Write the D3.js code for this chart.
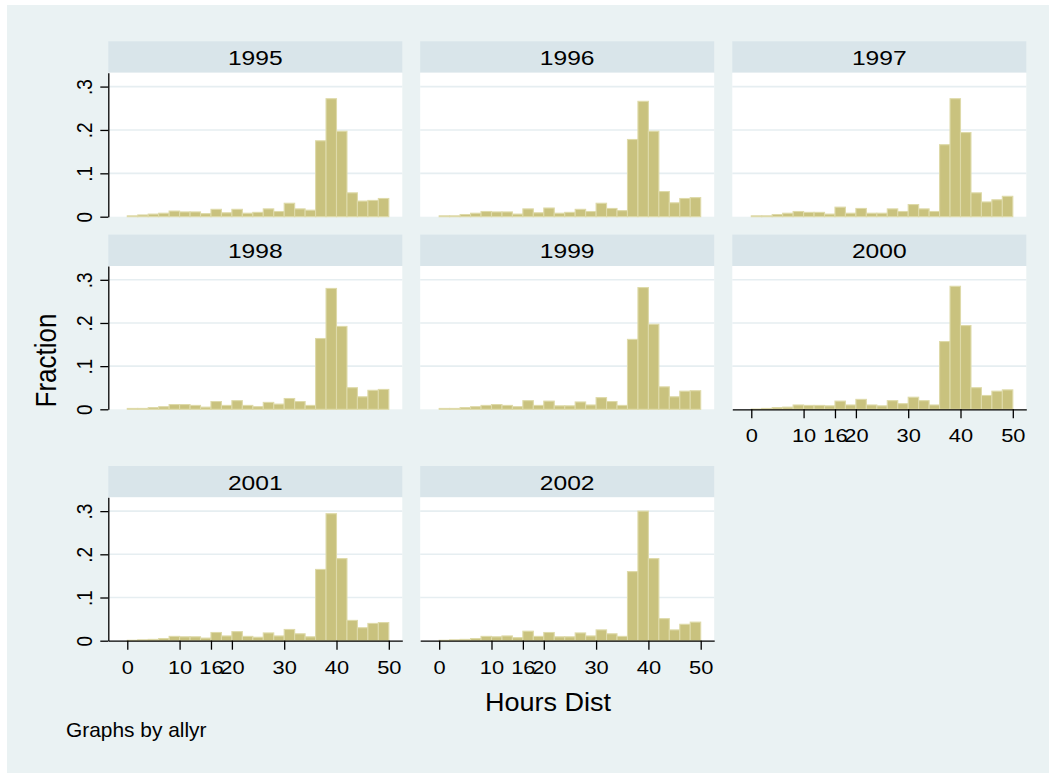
<!DOCTYPE html>
<html><head><meta charset="utf-8">
<script src="https://cdn.jsdelivr.net/npm/d3@7"></script>
<style>html,body{margin:0;padding:0;background:#fff;} svg{display:block;}</style>
</head><body><svg id="c" width="1056" height="775"></svg>
<script>
const years = ["1995","1996","1997","1998","1999","2000","2001","2002"];
const binStarts = [0,2,4,6,8,10,12,14,16,18,20,22,24,26,28,30,32,34,36,38,40,42,44,46,48];
const binWidth = 2;
const frac1995 = [0.002,0.004,0.006,0.008,0.013,0.011,0.011,0.007,0.017,0.009,0.017,0.008,0.010,0.018,0.012,0.031,0.018,0.015,0.175,0.272,0.197,0.055,0.036,0.0375,0.042];
const frac1996 = [0.002,0.002,0.005,0.008,0.012,0.011,0.011,0.006,0.018,0.009,0.020,0.008,0.010,0.017,0.012,0.031,0.019,0.014,0.178,0.266,0.197,0.058,0.032,0.042,0.044];
const frac1997 = [0.002,0.002,0.005,0.008,0.012,0.010,0.010,0.006,0.022,0.008,0.019,0.008,0.008,0.018,0.012,0.028,0.018,0.012,0.166,0.272,0.194,0.055,0.034,0.039,0.047];
const frac1998 = [0.002,0.002,0.004,0.006,0.011,0.011,0.009,0.005,0.018,0.009,0.020,0.009,0.006,0.016,0.012,0.025,0.018,0.009,0.164,0.280,0.192,0.050,0.029,0.044,0.046];
const frac1999 = [0.002,0.002,0.004,0.006,0.009,0.011,0.009,0.006,0.020,0.009,0.019,0.008,0.008,0.017,0.010,0.027,0.018,0.009,0.162,0.282,0.197,0.052,0.029,0.042,0.043];
const frac2000 = [0.0005,0.002,0.004,0.005,0.010,0.009,0.009,0.008,0.019,0.010,0.023,0.010,0.008,0.020,0.013,0.028,0.020,0.010,0.157,0.285,0.194,0.050,0.032,0.042,0.045];
const frac2001 = [0.001,0.002,0.003,0.005,0.010,0.009,0.009,0.006,0.019,0.011,0.021,0.010,0.008,0.018,0.011,0.026,0.016,0.009,0.165,0.294,0.190,0.047,0.030,0.040,0.042];
const frac2002 = [0.001,0.002,0.003,0.005,0.010,0.009,0.011,0.007,0.022,0.010,0.019,0.009,0.009,0.018,0.011,0.025,0.016,0.010,0.160,0.300,0.190,0.051,0.025,0.038,0.043];
const yTickValues = [0,0.1,0.2,0.3];
const yTickLabels = ["0",".1",".2",".3"];
const yGridValues = [0.1,0.2,0.3];
const xTickValues = [0,10,16,20,30,40,50];
const xTickLabels = ["0","10","16","20","30","40","50"];

const series = [frac1995,frac1996,frac1997,frac1998,frac1999,frac2000,frac2001,frac2002];
const FONT = "'Liberation Sans', Arial, Helvetica, sans-serif";

const svg = d3.select("#c");
svg.append("rect").attr("x",7).attr("y",5).attr("width",1042).attr("height",768).attr("fill","#eaf2f3");

const colLefts = [108.3, 420.2, 732.3];
const panelW = 294;
const rows = [
  {stripTop:41.3, plotTop:72.7, plotBottom:216.7},
  {stripTop:234.6, plotTop:266, plotBottom:409.3},
  {stripTop:466, plotTop:497.3, plotBottom:640.7}
];
const xAxisPanels = [5,6,7];

years.forEach((yr,i)=>{
  const r = rows[Math.floor(i/3)], c = i%3;
  const left = colLefts[c];
  const x = d3.scaleLinear().domain([-3.63,52.58]).range([left, left+panelW]);
  const y = d3.scaleLinear().domain([0,0.332]).range([r.plotBottom, r.plotTop]);
  const g = svg.append("g");
  // strip
  g.append("rect").attr("x",left).attr("y",r.stripTop).attr("width",panelW)
    .attr("height",r.plotTop-r.stripTop).attr("fill","#d9e5ea");
  g.append("text").attr("transform",`translate(${left+panelW/2},${r.plotTop-7.7}) scale(1.2,1)`)
    .attr("text-anchor","middle").attr("font-family",FONT).attr("font-size",20.5).attr("fill","#000").text(yr);
  // plot region
  g.append("rect").attr("x",left).attr("y",r.plotTop).attr("width",panelW)
    .attr("height",r.plotBottom-r.plotTop).attr("fill","#fff");
  // grid
  g.selectAll("line.grid").data(yGridValues).enter().append("line")
    .attr("x1",left).attr("x2",left+panelW).attr("y1",d=>y(d)).attr("y2",d=>y(d))
    .attr("stroke","#e6eef1").attr("stroke-width",1.6);
  // bars
  const vals = series[i];
  g.selectAll("rect.bar").data(binStarts.map((b,j)=>({b,v:vals[j]}))).enter().append("rect")
    .attr("x",d=>x(d.b)).attr("width",d=>x(d.b+binWidth)-x(d.b))
    .attr("y",d=>y(d.v)).attr("height",d=>y(0)-y(d.v))
    .attr("fill","#c9c27e").attr("stroke","#dedaa9").attr("stroke-width",1.1);
  // y axis
  if (c===0) {
    const ya = svg.append("g").attr("transform",`translate(${left},0)`)
      .call(d3.axisLeft(y).tickValues(yTickValues).tickFormat((d,k)=>yTickLabels[k]).tickSize(8).tickSizeOuter(0));
    ya.select(".domain").attr("stroke","#000").attr("stroke-width",1.3);
    ya.selectAll(".tick line").attr("stroke","#000").attr("stroke-width",1.3);
    ya.selectAll(".tick text").attr("x",null).attr("dy",null).attr("y",null)
      .attr("transform","translate(-16,0) scale(1.12,1) rotate(-90)")
      .attr("text-anchor","middle").attr("font-family",FONT).attr("font-size",19).attr("fill","#000");
  }
  // x axis
  if (xAxisPanels.includes(i)) {
    const xa = svg.append("g").attr("transform",`translate(0,${r.plotBottom})`)
      .call(d3.axisBottom(x).tickValues(xTickValues).tickFormat((d,k)=>xTickLabels[k]).tickSize(9).tickSizeOuter(0));
    xa.select(".domain").attr("stroke","#000").attr("stroke-width",1.3);
    xa.selectAll(".tick line").attr("stroke","#000").attr("stroke-width",1.3);
    xa.selectAll(".tick text").attr("y",null).attr("dy",null)
      .attr("transform","translate(0,33) scale(1.15,1)")
      .attr("text-anchor","middle").attr("font-family",FONT).attr("font-size",19).attr("fill","#000");
  }
});

// axis titles
svg.append("text").attr("transform","translate(548,710.5) scale(1.04,1)").attr("text-anchor","middle")
  .attr("font-family",FONT).attr("font-size",26).attr("fill","#000").text("Hours Dist");
svg.append("text").attr("transform","translate(56.4,360.5) scale(1.1,1) rotate(-90)").attr("text-anchor","middle")
  .attr("font-family",FONT).attr("font-size",26).attr("fill","#000").text("Fraction");
svg.append("text").attr("transform","translate(66,737.3) scale(1.02,1)").attr("text-anchor","start")
  .attr("font-family",FONT).attr("font-size",20.5).attr("fill","#000").text("Graphs by allyr");
</script></body></html>
